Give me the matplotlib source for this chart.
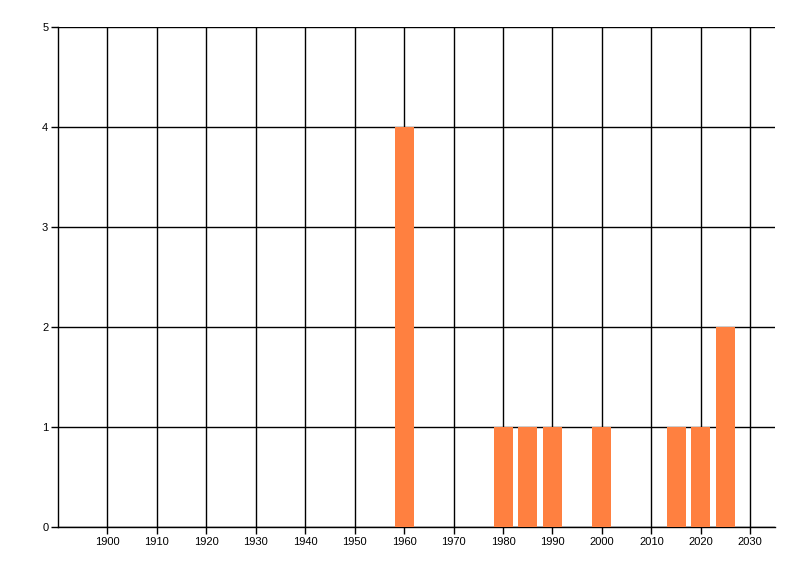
import matplotlib
matplotlib.use("Agg")
import matplotlib.pyplot as plt

years = [1960, 1980, 1985, 1990, 2000, 2015, 2020, 2025]
counts = [4, 1, 1, 1, 1, 1, 1, 2]
x_ticks = list(range(1900, 2031, 10))
y_ticks = [0, 1, 2, 3, 4, 5]

plt.rcParams['font.family'] = ['Liberation Sans', 'DejaVu Sans']
fig = plt.figure(figsize=(8, 5.76), dpi=100)
ax = fig.add_axes([58/800, 1-527/576, (775-58)/800, (527-27)/576])

ax.bar(years, counts, width=3.85, color='#FF8040', zorder=3)
ax.set_xlim(1890, 2035)
ax.set_ylim(0, 5)
ax.set_xticks(x_ticks)
ax.set_yticks(y_ticks)
ax.grid(True, color='black', linewidth=1)
ax.set_axisbelow(True)
for s in ['top', 'right']:
    ax.spines[s].set_visible(False)
for s in ['left', 'bottom']:
    ax.spines[s].set_linewidth(1)
ax.tick_params(axis='both', length=5, width=1, labelsize=8, color='black', pad=2)

fig.savefig('out.png', dpi=100)
